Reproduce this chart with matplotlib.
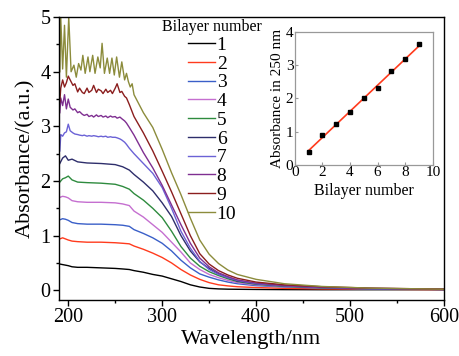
import numpy as np
import matplotlib
matplotlib.use("Agg")
import matplotlib.pyplot as plt
from matplotlib.ticker import MultipleLocator

plt.rcParams['font.family'] = ['Liberation Serif', 'DejaVu Serif']

# wavelength grids (nm)
wl_smooth = [191, 194, 197, 200, 204, 210, 220, 235, 250, 258, 265]
wl_noisy = [191, 192, 194, 196, 198, 200, 202, 205, 207, 210, 212, 215, 217, 220, 222,
            225, 227, 230, 232, 235, 237, 240, 242, 245, 247, 250, 252, 255, 257, 260, 262, 265]
wl_olive = [191, 192, 194, 196, 198, 200.5, 203, 206, 208.5, 211, 213.5, 215.5, 218, 221,
            223, 226, 228.5, 231.5, 234, 236, 238.5, 241.5, 244, 246.5, 249, 251.5, 254.5,
            257, 260, 262, 264, 266, 268]
wl_tail = [270, 280, 290, 300, 310, 320, 330, 340, 350, 360, 370, 380, 400, 430, 470, 520, 600]

# absorbance
abs1 = [0.48, 0.47, 0.46, 0.45, 0.43, 0.42, 0.42, 0.41, 0.40, 0.39, 0.38,
        0.36, 0.33, 0.29, 0.26, 0.21, 0.16, 0.10, 0.06, 0.035, 0.025, 0.02, 0.018, 0.015, 0.012, 0.01, 0.01, 0.01]
abs2 = [0.94, 0.96, 0.94, 0.92, 0.90, 0.89, 0.88, 0.88, 0.87, 0.86, 0.85,
        0.81, 0.75, 0.68, 0.60, 0.50, 0.38, 0.28, 0.20, 0.14, 0.10, 0.08, 0.065, 0.05, 0.035, 0.025, 0.02, 0.01]
abs3 = [1.29, 1.31, 1.30, 1.28, 1.24, 1.22, 1.21, 1.21, 1.20, 1.19, 1.17,
        1.11, 1.04, 0.96, 0.86, 0.72, 0.55, 0.41, 0.30, 0.24, 0.19, 0.15, 0.12, 0.085, 0.06, 0.04, 0.025, 0.015]
abs4 = [1.70, 1.72, 1.71, 1.69, 1.64, 1.62, 1.61, 1.61, 1.60, 1.58, 1.55,
        1.45, 1.34, 1.20, 1.06, 0.88, 0.70, 0.50, 0.38, 0.29, 0.23, 0.18, 0.14, 0.10, 0.065, 0.045, 0.03, 0.015]
abs5 = [1.98, 2.04, 2.06, 2.09, 2.02, 1.98, 1.97, 1.96, 1.94, 1.90, 1.85,
        1.77, 1.65, 1.50, 1.33, 1.08, 0.80, 0.59, 0.44, 0.34, 0.27, 0.21, 0.16, 0.11, 0.07, 0.045, 0.03, 0.015]
abs6 = [2.32, 2.42, 2.46, 2.38, 2.40, 2.35, 2.33, 2.32, 2.30, 2.26, 2.20,
        2.12, 1.98, 1.82, 1.60, 1.35, 1.00, 0.72, 0.52, 0.40, 0.30, 0.23, 0.17, 0.12, 0.08, 0.05, 0.03, 0.015]
abs7 = [2.55, 2.85, 2.82, 2.88, 2.90, 3.04, 2.92, 2.88, 2.86, 2.85, 2.84, 2.83, 2.84, 2.82, 2.83,
        2.82, 2.83, 2.82, 2.81, 2.82, 2.81, 2.82, 2.80, 2.81, 2.80, 2.80, 2.79, 2.77, 2.75, 2.71, 2.67, 2.60,
        2.50, 2.32, 2.14, 1.88, 1.50, 1.08, 0.77, 0.53, 0.38, 0.29, 0.23, 0.18, 0.12, 0.08, 0.05, 0.03, 0.015]
abs8 = [3.25, 3.52, 3.38, 3.58, 3.32, 3.50, 3.35, 3.30, 3.32, 3.25, 3.27, 3.22, 3.20, 3.22, 3.18,
        3.20, 3.17, 3.21, 3.18, 3.20, 3.17, 3.19, 3.16, 3.19, 3.17, 3.18, 3.15, 3.17, 3.14, 3.10, 3.06, 2.98,
        2.84, 2.52, 2.24, 1.92, 1.56, 1.20, 0.86, 0.59, 0.43, 0.32, 0.25, 0.19, 0.13, 0.085, 0.055, 0.035, 0.02]
abs9 = [3.45, 3.70, 3.85, 3.72, 3.80, 3.92, 3.85, 3.75, 3.78, 3.63, 3.70, 3.62, 3.60, 3.70, 3.62,
        3.66, 3.75, 3.62, 3.68, 3.65, 3.60, 3.68, 3.62, 3.66, 3.60, 3.70, 3.78, 3.62, 3.64, 3.55, 3.52, 3.40,
        3.18, 2.88, 2.55, 2.18, 1.80, 1.40, 1.00, 0.67, 0.48, 0.36, 0.28, 0.22, 0.15, 0.10, 0.065, 0.04, 0.02]
abs10 = [4.00, 5.00, 4.05, 4.85, 3.90, 5.00, 4.00, 4.12, 3.90, 4.15, 4.03, 4.30, 3.97, 4.27,
         4.00, 4.30, 3.97, 4.27, 4.07, 4.52, 3.97, 4.25, 3.97, 4.25, 3.94, 4.27, 3.90,
         4.18, 3.85, 3.97, 3.82, 3.72, 3.78,
         3.58, 3.25, 2.98, 2.58, 2.15, 1.75, 1.32, 0.92, 0.66, 0.49, 0.37, 0.29, 0.20, 0.12, 0.07, 0.04, 0.02]

labels = ['1', '2', '3', '4', '5', '6', '7', '8', '9', '10']
colors = ['#000000', '#FF3B1D', '#3A5FC8', '#C56FD0', '#2E8B3E',
          '#2E2E6B', '#6B62D6', '#7F2F91', '#8B1E1E', '#8C8C3C']

# inset: absorbance at 250 nm vs bilayer number
bilayers = [1, 2, 3, 4, 5, 6, 7, 8, 9]
abs250 = [0.40, 0.90, 1.23, 1.60, 2.00, 2.30, 2.82, 3.18, 3.63]

series = [(wl_smooth, abs1), (wl_smooth, abs2), (wl_smooth, abs3), (wl_smooth, abs4),
          (wl_smooth, abs5), (wl_smooth, abs6), (wl_noisy, abs7), (wl_noisy, abs8),
          (wl_noisy, abs9), (wl_olive, abs10)]

fig = plt.figure(figsize=(4.6, 3.56), dpi=100)
ax = fig.add_axes([0.128, 0.157, 0.837, 0.795])

for (wl, a), lab, c in zip(series, labels, colors):
    ax.plot(list(wl) + wl_tail, a, color=c, lw=1.0, label=lab)

ax.set_xlim(190, 600)
ax.set_ylim(-0.18, 5)
ax.xaxis.set_major_locator(MultipleLocator(100))
ax.xaxis.set_minor_locator(MultipleLocator(50))
ax.yaxis.set_major_locator(MultipleLocator(1))
ax.yaxis.set_minor_locator(MultipleLocator(0.5))
ax.tick_params(which='major', direction='out', length=4, width=1, labelsize=14.5, pad=2)
ax.tick_params(which='minor', direction='out', length=2.5, width=1)
for s in ax.spines.values():
    s.set_linewidth(1.0)
ax.set_xlabel('Wavelength/nm', fontsize=16, labelpad=2)
ax.set_ylabel('Absorbance/(a.u.)', fontsize=16, labelpad=4)

leg = ax.legend(loc='upper center', bbox_to_anchor=(0.398, 1.0), frameon=False,
                title='Bilayer number', title_fontsize=11.5, fontsize=14,
                handlelength=1.4, handletextpad=0.08, labelspacing=0.06,
                borderpad=0.1, borderaxespad=0)

ins = fig.add_axes([0.641, 0.537, 0.300, 0.373])
coef = np.polyfit(bilayers, abs250, 1)
ins.plot(bilayers, np.polyval(coef, bilayers), color='#FF3B1D', lw=1.2)
ins.plot(bilayers, abs250, 's', color='black', ms=3.5)
ins.set_xlim(0, 10)
ins.set_ylim(0, 4)
ins.xaxis.set_major_locator(MultipleLocator(2))
ins.yaxis.set_major_locator(MultipleLocator(1))
ins.tick_params(direction='in', length=2, color='#999999', labelsize=11, pad=1)
for s in ins.spines.values():
    s.set_color('#999999')
    s.set_linewidth(0.9)
ins.set_xlabel('Bilayer number', fontsize=11.5, labelpad=3)
ins.set_ylabel('Absorbance in 250 nm', fontsize=11, labelpad=1)

fig.savefig('out.png', dpi=100)
